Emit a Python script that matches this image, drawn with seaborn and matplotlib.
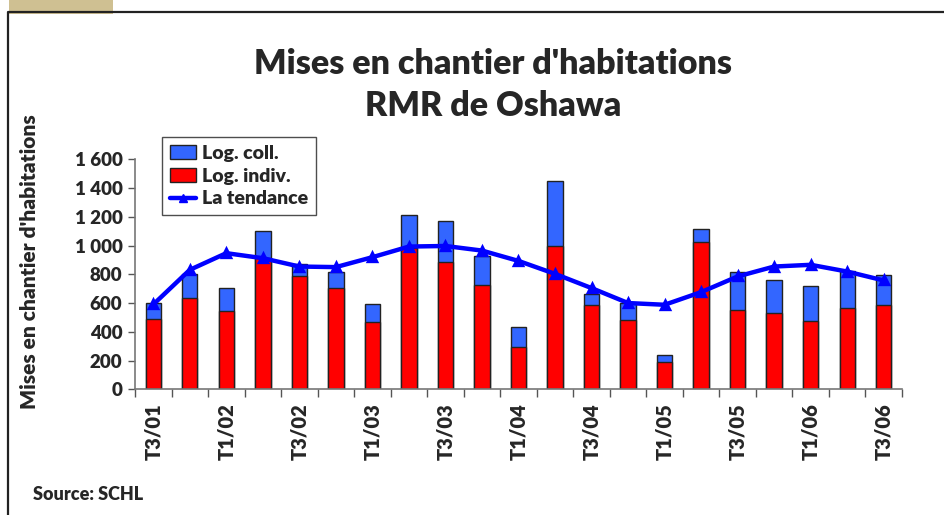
import matplotlib
matplotlib.use('Agg')
import matplotlib.pyplot as plt
import pandas as pd
import seaborn as sns
from matplotlib.lines import Line2D
from matplotlib.patches import Patch, Rectangle

# Quarterly housing starts, Oshawa CMA
quarters = ['T3/01', 'T4/01', 'T1/02', 'T2/02', 'T3/02', 'T4/02', 'T1/03',
            'T2/03', 'T3/03', 'T4/03', 'T1/04', 'T2/04', 'T3/04', 'T4/04',
            'T1/05', 'T2/05', 'T3/05', 'T4/05', 'T1/06', 'T2/06', 'T3/06']
indiv = [490, 635, 542, 912, 789, 706, 466, 981, 889, 727, 291,
         995, 584, 482, 191, 1022, 554, 531, 475, 563, 584]
coll = [110, 168, 162, 187, 83, 109, 127, 231, 284, 201, 143,
        452, 81, 118, 49, 90, 261, 226, 243, 263, 212]
trend = [590, 831, 947, 912, 854, 850, 919, 993, 997, 965, 893,
         803, 704, 600, 588, 676, 785, 854, 866, 819, 757]
yticks = [0, 200, 400, 600, 800, 1000, 1200, 1400, 1600]
ytick_labels = ['0', '200', '400', '600', '800', '1 000', '1 200', '1 400', '1 600']

df = pd.DataFrame({'quarter': quarters, 'indiv': indiv, 'coll': coll, 'trend': trend})
df['total'] = df['indiv'] + df['coll']

sns.set_theme(style='white')
plt.rcParams['font.family'] = ['Lato', 'DejaVu Sans']
W = 'heavy'

fig = plt.figure(figsize=(9.45, 5.15), dpi=100)
ax = fig.add_axes([135 / 945, 1 - 389.3 / 515, 767 / 945, 230 / 515])

blue = '#3366FF'
red = '#FF0000'
edge = '#222222'

# stacked bars: total (blue) first, individual (red) on top of it
sns.barplot(data=df, x='quarter', y='total', order=quarters, color=blue,
            width=0.42, saturation=1, edgecolor=edge, linewidth=1, ax=ax)
sns.barplot(data=df, x='quarter', y='indiv', order=quarters, color=red,
            width=0.42, saturation=1, edgecolor=edge, linewidth=1, ax=ax)
sns.pointplot(data=df, x='quarter', y='trend', order=quarters, color='#0000FF',
              markers='^', linewidth=3.2, markersize=6, ax=ax)

ax.set_xlim(-0.5, len(quarters) - 0.5)
ax.set_ylim(0, 1600)
ax.set_yticks(yticks)
ax.set_yticklabels(ytick_labels, fontsize=13.5, fontweight=W)
ax.set_xticks(range(0, len(quarters), 2))
ax.set_xticklabels(quarters[::2], rotation=90, fontsize=14.5, fontweight=W)
ax.set_xticks([i - 0.5 for i in range(len(quarters) + 1)], minor=True)
ax.tick_params(axis='x', which='major', length=0, pad=10)
ax.tick_params(axis='x', which='minor', length=6, width=1, color='#555555', direction='out', bottom=True)
ax.tick_params(axis='y', length=5, width=1, color='#555555', direction='out', left=True, pad=4)
ax.set_xlabel('')
ax.set_ylabel('')
for s in ['top', 'right']:
    ax.spines[s].set_visible(False)
for s in ['left', 'bottom']:
    ax.spines[s].set_color('#777777')
    ax.spines[s].set_linewidth(1.2)

fig.text(30 / 945, 1 - 262 / 515, "Mises en chantier d'habitations", rotation=90,
         ha='center', va='center', fontsize=15, fontweight=W)

fig.text(493 / 945, 1 - 85 / 515, "Mises en chantier d'habitations\nRMR de Oshawa",
         ha='center', va='center', fontsize=24.5, fontweight=W, linespacing=1.38)

handles = [Patch(facecolor=blue, edgecolor=edge, linewidth=1),
           Patch(facecolor=red, edgecolor=edge, linewidth=1),
           Line2D([], [], color='#0000FF', marker='^', linewidth=3.2, markersize=6)]
leg = fig.legend(handles, ['Log. coll.', 'Log. indiv.', 'La tendance'],
                 loc='upper left', bbox_to_anchor=(162 / 945, 1 - 137 / 515),
                 prop={'size': 14, 'weight': W}, frameon=True, fancybox=False,
                 handlelength=1.35, handleheight=0.7, handletextpad=0.3,
                 labelspacing=0.3, borderpad=0.4, borderaxespad=0)
leg.get_frame().set_edgecolor('#222222')
leg.get_frame().set_linewidth(1)

fig.text(33 / 945, 1 - 494 / 515, 'Source: SCHL', ha='left', va='center',
         fontsize=13, fontweight=W)

# outer frame and tab at the top left
fig.add_artist(Line2D([8 / 945, 8 / 945, 1], [0, 1 - 12 / 515, 1 - 12 / 515],
                      transform=fig.transFigure, color='#222222', linewidth=1.6))
fig.add_artist(Rectangle((9 / 945, 1 - 14 / 515), 104 / 945, 14 / 515,
                         transform=fig.transFigure, facecolor='#CFC092', edgecolor='none'))

fig.savefig('out.png', dpi=100)
